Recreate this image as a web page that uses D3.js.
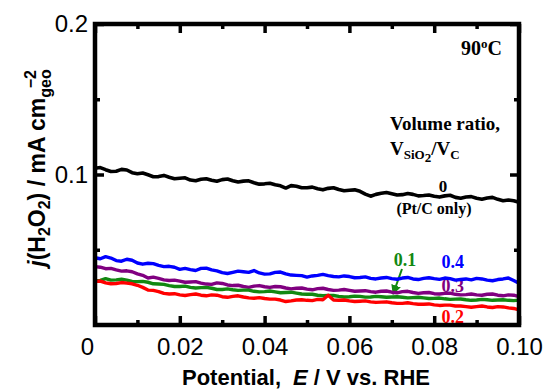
<!DOCTYPE html>
<html>
<head>
<meta charset="utf-8">
<script src="https://cdn.jsdelivr.net/npm/d3@7"></script>
<style>
  body { margin: 0; background: #fff; }
  svg { display: block; }
</style>
</head>
<body>
<svg id="chart" width="546" height="390"></svg>
<script>
// potential axis, V vs. RHE
const potential = [0, 0.00125, 0.0025, 0.00375, 0.005, 0.00625, 0.0075, 0.00875, 0.01, 0.01125,
  0.0125, 0.01375, 0.015, 0.01625, 0.0175, 0.01875, 0.02, 0.02125, 0.0225, 0.02375,
  0.025, 0.02625, 0.0275, 0.02875, 0.03, 0.03125, 0.0325, 0.03375, 0.035, 0.03625,
  0.0375, 0.03875, 0.04, 0.04125, 0.0425, 0.04375, 0.045, 0.04625, 0.0475, 0.04875,
  0.05, 0.05125, 0.0525, 0.05375, 0.055, 0.05625, 0.0575, 0.05875, 0.06, 0.06125,
  0.0625, 0.06375, 0.065, 0.06625, 0.0675, 0.06875, 0.07, 0.07125, 0.0725, 0.07375,
  0.075, 0.07625, 0.0775, 0.07875, 0.08, 0.08125, 0.0825, 0.08375, 0.085, 0.08625,
  0.0875, 0.08875, 0.09, 0.09125, 0.0925, 0.09375, 0.095, 0.09625, 0.0975, 0.09875, 0.1];

// j(H2O2) in mA cm-2 for each SiO2/C volume ratio
const ratio0 = [0.1042, 0.1046, 0.1032, 0.1020, 0.1022, 0.1034, 0.1030, 0.1012, 0.1005, 0.1010,
  0.0998, 0.0985, 0.0986, 0.0994, 0.0982, 0.0972, 0.0975, 0.0978, 0.0963, 0.0958,
  0.0968, 0.0972, 0.0962, 0.0955, 0.0966, 0.0970, 0.0958, 0.0950, 0.0956, 0.0958,
  0.0945, 0.0936, 0.0938, 0.0942, 0.0932, 0.0925, 0.0910, 0.0926, 0.0922, 0.0912,
  0.0912, 0.0916, 0.0905, 0.0898, 0.0908, 0.0912, 0.0900, 0.0892, 0.0895, 0.0898,
  0.0888, 0.0870, 0.0856, 0.0868, 0.0875, 0.0880, 0.0872, 0.0864, 0.0866, 0.0874,
  0.0868, 0.0858, 0.0860, 0.0864, 0.0855, 0.0850, 0.0858, 0.0862, 0.0848, 0.0842,
  0.0850, 0.0853, 0.0842, 0.0836, 0.0844, 0.0848, 0.0835, 0.0826, 0.0830, 0.0825, 0.0815];
const ratio04 = [0.0447, 0.0440, 0.0454, 0.0445, 0.0428, 0.0424, 0.0437, 0.0430, 0.0412, 0.0404,
  0.0410, 0.0408, 0.0396, 0.0388, 0.0390, 0.0384, 0.0370, 0.0376, 0.0368, 0.0362,
  0.0376, 0.0378, 0.0366, 0.0360, 0.0348, 0.0342, 0.0350, 0.0358, 0.0354, 0.0350,
  0.0362, 0.0346, 0.0338, 0.0340, 0.0350, 0.0352, 0.0340, 0.0332, 0.0330, 0.0328,
  0.0318, 0.0326, 0.0330, 0.0336, 0.0328, 0.0322, 0.0320, 0.0326, 0.0322, 0.0314,
  0.0316, 0.0320, 0.0310, 0.0306, 0.0312, 0.0316, 0.0308, 0.0304, 0.0312, 0.0316,
  0.0306, 0.0302, 0.0310, 0.0314, 0.0308, 0.0303, 0.0312, 0.0308, 0.0298, 0.0302,
  0.0306, 0.0300, 0.0310, 0.0306, 0.0298, 0.0294, 0.0302, 0.0306, 0.0312, 0.0296, 0.0278];
const ratio03 = [0.0388, 0.0384, 0.0374, 0.0376, 0.0366, 0.0358, 0.0360, 0.0354, 0.0340, 0.0330,
  0.0312, 0.0318, 0.0310, 0.0300, 0.0296, 0.0298, 0.0292, 0.0284, 0.0286, 0.0288,
  0.0278, 0.0272, 0.0270, 0.0280, 0.0276, 0.0266, 0.0262, 0.0264, 0.0256, 0.0250,
  0.0258, 0.0262, 0.0254, 0.0250, 0.0256, 0.0254, 0.0246, 0.0240, 0.0244, 0.0246,
  0.0238, 0.0234, 0.0242, 0.0244, 0.0236, 0.0230, 0.0232, 0.0236, 0.0230, 0.0224,
  0.0226, 0.0228, 0.0222, 0.0218, 0.0224, 0.0226, 0.0218, 0.0214, 0.0222, 0.0224,
  0.0216, 0.0210, 0.0214, 0.0216, 0.0208, 0.0206, 0.0210, 0.0212, 0.0204, 0.0200,
  0.0202, 0.0206, 0.0200, 0.0198, 0.0204, 0.0206, 0.0198, 0.0194, 0.0200, 0.0198, 0.0188];
const ratio01 = [0.0292, 0.0296, 0.0308, 0.0298, 0.0300, 0.0304, 0.0298, 0.0290, 0.0288, 0.0290,
  0.0284, 0.0274, 0.0272, 0.0270, 0.0262, 0.0256, 0.0256, 0.0258, 0.0250, 0.0246,
  0.0248, 0.0250, 0.0244, 0.0236, 0.0236, 0.0240, 0.0234, 0.0230, 0.0232, 0.0232,
  0.0224, 0.0220, 0.0222, 0.0226, 0.0220, 0.0214, 0.0216, 0.0218, 0.0212, 0.0206,
  0.0204, 0.0204, 0.0198, 0.0194, 0.0196, 0.0196, 0.0190, 0.0186, 0.0188, 0.0192,
  0.0190, 0.0185, 0.0186, 0.0190, 0.0188, 0.0184, 0.0186, 0.0188, 0.0184, 0.0180,
  0.0182, 0.0184, 0.0180, 0.0176, 0.0177, 0.0179, 0.0174, 0.0170, 0.0172, 0.0173,
  0.0168, 0.0164, 0.0166, 0.0170, 0.0168, 0.0164, 0.0166, 0.0168, 0.0164, 0.0162, 0.0165];
const ratio02 = [0.0288, 0.0292, 0.0280, 0.0274, 0.0276, 0.0282, 0.0278, 0.0274, 0.0264, 0.0250,
  0.0232, 0.0230, 0.0222, 0.0210, 0.0206, 0.0208, 0.0200, 0.0196, 0.0202, 0.0206,
  0.0198, 0.0194, 0.0200, 0.0198, 0.0188, 0.0184, 0.0190, 0.0194, 0.0186, 0.0180,
  0.0178, 0.0182, 0.0176, 0.0172, 0.0172, 0.0166, 0.0156, 0.0160, 0.0166, 0.0168,
  0.0164, 0.0162, 0.0170, 0.0168, 0.0198, 0.0166, 0.0164, 0.0166, 0.0160, 0.0156,
  0.0158, 0.0160, 0.0154, 0.0150, 0.0152, 0.0154, 0.0148, 0.0144, 0.0144, 0.0148,
  0.0142, 0.0138, 0.0138, 0.0140, 0.0134, 0.0130, 0.0132, 0.0132, 0.0126, 0.0126,
  0.0122, 0.0118, 0.0122, 0.0126, 0.0120, 0.0116, 0.0122, 0.0120, 0.0114, 0.0110, 0.0100];

const xMajor = [0, 0.02, 0.04, 0.06, 0.08, 0.1];
const xMajorLabels = ["0", "0.02", "0.04", "0.06", "0.08", "0.10"];
const xMinor = [0.01, 0.03, 0.05, 0.07, 0.09];
const yMajor = [0.1, 0.2];
const yMajorLabels = ["0.1", "0.2"];
const yMinor = [0.05, 0.15];

const series = [
  { name: "0", values: ratio0, color: "#000000" },
  { name: "0.4", values: ratio04, color: "#0000ff" },
  { name: "0.3", values: ratio03, color: "#800080" },
  { name: "0.1", values: ratio01, color: "#118811" },
  { name: "0.2", values: ratio02, color: "#ff0000" }
];

const plotLeft = 95, plotRight = 519, plotTop = 24, plotBottom = 325;
const serif = "'Liberation Serif', 'Times New Roman', serif";
const sans = "'Liberation Sans', Arial, sans-serif";

const svg = d3.select("#chart");

const x = d3.scaleLinear().domain([0, 0.1]).range([plotLeft, plotRight]);
const y = d3.scaleLinear().domain([0, 0.2]).range([plotBottom, plotTop]);

// labels that sit under the curves
const tag = (text, xv, yv, color) => svg.append("text")
  .attr("x", x(xv)).attr("y", y(yv))
  .attr("text-anchor", "middle")
  .style("font-family", serif).style("font-weight", "bold").style("font-size", "18px")
  .attr("fill", color).text(text);

tag("0.4", 0.0844, 0.0378, "#0000ff");
tag("0.3", 0.0844, 0.0219, "#800080");
tag("0.2", 0.0844, 0.0013, "#ff0000");
tag("0.1", 0.0731, 0.0392, "#118811");

// arrow from 0.1 label to its curve
svg.append("defs").append("marker")
  .attr("id", "arr").attr("viewBox", "0 0 10 10")
  .attr("refX", 9).attr("refY", 5)
  .attr("markerWidth", 5).attr("markerHeight", 5)
  .attr("orient", "auto")
  .append("path").attr("d", "M0,0L10,5L0,10Z").attr("fill", "#118811");
svg.append("line")
  .attr("x1", x(0.0724)).attr("y1", y(0.0372))
  .attr("x2", x(0.0703)).attr("y2", y(0.0205))
  .attr("stroke", "#118811").attr("stroke-width", 2)
  .attr("marker-end", "url(#arr)");

const line = d3.line()
  .x((d, i) => x(potential[i]))
  .y(d => y(d));

svg.selectAll("path.curve")
  .data(series)
  .enter()
  .append("path")
  .attr("class", "curve")
  .attr("d", d => line(d.values))
  .attr("fill", "none")
  .attr("stroke", d => d.color)
  .attr("stroke-width", d => d.name === "0" ? 3.6 : 3.4)
  .attr("stroke-linejoin", "round");

// axes, ticks pointing inward on all four sides
const major = 9, minor = 5;

const xb = svg.append("g").attr("transform", `translate(0,${plotBottom})`)
  .call(d3.axisBottom(x).tickValues(xMajor).tickSize(-major)
    .tickFormat((d, i) => xMajorLabels[i]));
xb.selectAll("text").attr("y", 30).attr("dy", null)
  .attr("dx", (d, i) => i === 0 ? -8 : 0);
svg.append("g").attr("transform", `translate(0,${plotBottom})`)
  .call(d3.axisBottom(x).tickValues(xMinor).tickSize(-minor).tickFormat(""));

svg.append("g").attr("transform", `translate(0,${plotTop})`)
  .call(d3.axisTop(x).tickValues(xMajor).tickSize(-major).tickFormat(""));
svg.append("g").attr("transform", `translate(0,${plotTop})`)
  .call(d3.axisTop(x).tickValues(xMinor).tickSize(-minor).tickFormat(""));

svg.append("g").attr("transform", `translate(${plotLeft},0)`)
  .call(d3.axisLeft(y).tickValues(yMajor).tickSize(-major).tickPadding(7)
    .tickFormat((d, i) => yMajorLabels[i]));
svg.append("g").attr("transform", `translate(${plotLeft},0)`)
  .call(d3.axisLeft(y).tickValues(yMinor).tickSize(-minor).tickFormat(""));

svg.append("g").attr("transform", `translate(${plotRight},0)`)
  .call(d3.axisRight(y).tickValues(yMajor).tickSize(-major).tickFormat(""));
svg.append("g").attr("transform", `translate(${plotRight},0)`)
  .call(d3.axisRight(y).tickValues(yMinor).tickSize(-minor).tickFormat(""));

svg.selectAll(".domain").remove();
svg.selectAll(".tick line").attr("stroke", "#000").attr("stroke-width", 3.5);
svg.selectAll(".tick text")
  .style("font-family", sans).style("font-size", "24px").attr("fill", "#000");

// frame
svg.append("rect")
  .attr("x", plotLeft).attr("y", plotTop)
  .attr("width", plotRight - plotLeft).attr("height", plotBottom - plotTop)
  .attr("fill", "none").attr("stroke", "#000").attr("stroke-width", 4.5);

// annotations
const note = svg.append("g")
  .style("font-family", serif).style("font-weight", "bold").attr("fill", "#000");

const t90 = note.append("text").attr("x", 502).attr("y", 55)
  .attr("text-anchor", "end").style("font-size", "20px");
t90.append("tspan").text("90");
t90.append("tspan").attr("dy", -7).style("font-size", "13px").text("o");
t90.append("tspan").attr("dy", 7).text("C");

note.append("text").attr("x", 390).attr("y", 130)
  .style("font-size", "19px").text("Volume ratio,");

const vr = note.append("text").attr("x", 390).attr("y", 155).style("font-size", "19px");
vr.append("tspan").text("V");
vr.append("tspan").attr("dy", 4).style("font-size", "13px").text("SiO");
vr.append("tspan").attr("dy", 3).style("font-size", "13px").text("2");
vr.append("tspan").attr("dy", -7).text("/V");
vr.append("tspan").attr("dy", 4).style("font-size", "13px").text("C");

note.append("text").attr("x", 443).attr("y", 192)
  .attr("text-anchor", "middle").style("font-size", "17px").text("0");
note.append("text").attr("x", 434).attr("y", 214)
  .attr("text-anchor", "middle").style("font-size", "16px").text("(Pt/C only)");

// axis titles
const xt = svg.append("text").attr("x", 306).attr("y", 385)
  .attr("text-anchor", "middle")
  .style("font-family", sans).style("font-weight", "bold").style("font-size", "22px");
xt.append("tspan").text("Potential,");
xt.append("tspan").attr("dx", 12).style("font-style", "italic").text("E");
xt.append("tspan").text(" / V vs. RHE");

const yt = svg.append("text")
  .attr("transform", "translate(45,168) rotate(-90)")
  .attr("text-anchor", "middle")
  .style("font-family", sans).style("font-weight", "bold").style("font-size", "23px");
yt.append("tspan").style("font-style", "italic").text("j");
yt.append("tspan").text("(H");
yt.append("tspan").attr("dy", 5).style("font-size", "16px").text("2");
yt.append("tspan").attr("dy", -5).text("O");
yt.append("tspan").attr("dy", 5).style("font-size", "16px").text("2");
yt.append("tspan").attr("dy", -5).text(") / mA cm");
yt.append("tspan").attr("dy", 6).style("font-size", "16px").text("geo");
yt.append("tspan").attr("dx", -19).attr("dy", -15).style("font-size", "16px").text("\u22122");
</script>
</body>
</html>
